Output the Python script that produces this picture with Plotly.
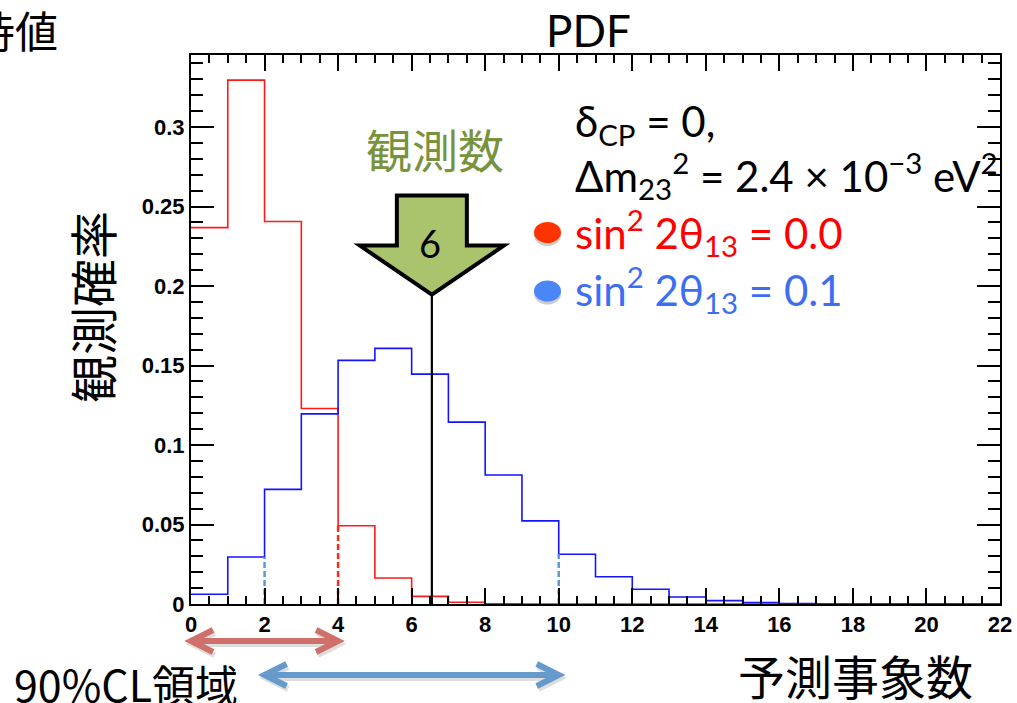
import plotly.graph_objects as go

# Histogram bin edges: one bin per integer count of predicted events
bin_edges = list(range(0, 23))

# Observation probability per bin for sin^2 2θ13 = 0.0
prob_s0 = [0.2367, 0.3295, 0.2406, 0.1230, 0.0492, 0.0164, 0.0048, 0.0011,
           0.0002, 0, 0, 0, 0, 0, 0, 0, 0, 0, 0, 0, 0, 0]

# Observation probability per bin for sin^2 2θ13 = 0.1
prob_s1 = [0.0061, 0.0296, 0.0721, 0.1196, 0.1532, 0.1608, 0.1446, 0.1144,
           0.0811, 0.0523, 0.0313, 0.0171, 0.0093, 0.0044, 0.0021, 0.0009,
           0.0003, 0, 0, 0, 0, 0]

# 90% CL regions (in predicted events)
cl90_s0 = [0, 4]
cl90_s1 = [2, 10]

# Observed number of events and where its marker line sits
n_observed = 6
observed_x = 6.55

x_tick_vals = list(range(0, 23, 2))
y_tick_vals = [0, 0.05, 0.1, 0.15, 0.2, 0.25, 0.3]
y_tick_text = ["0", "0.05", "0.1", "0.15", "0.2", "0.25", "0.3"]

RED = "#ff1a1a"
BLUE = "#1414ff"
RED_DASH = "#ff2a10"
BLUE_DASH = "#5b9bd5"
RED_ARROW = "#d0706a"
BLUE_ARROW = "#6699cc"
GREEN_FILL = "#a9c46c"
GREEN_TEXT = "#77933c"

# Page geometry (pixels)
W, H = 1017, 703
ML, MR, MT, MB = 191, 17, 55, 99
PW = W - ML - MR
PH = H - MT - MB
X_RANGE = [0, 22]
Y_RANGE = [0, 0.3453]
DX = (X_RANGE[1] - X_RANGE[0]) / PW   # data x per pixel
DY = (Y_RANGE[1] - Y_RANGE[0]) / PH   # data y per pixel
ARROW_TIP_Y = 0.1946

LATIN = "Lato, 'Noto Sans', sans-serif"
CJK = "'Noto Sans CJK JP', sans-serif"
TICKS = "'Liberation Sans', Arial, sans-serif"


def pxx(px):
    return (px - ML) / PW


def pxy(py):
    return (H - MB - py) / PH


def data_to_paper_x(x):
    return (x - X_RANGE[0]) / (X_RANGE[1] - X_RANGE[0])


def step(vals):
    return vals + [vals[-1]]


fig = go.Figure()

fig.add_trace(go.Scatter(x=bin_edges, y=step(prob_s0), mode="lines",
                         line=dict(color=RED, width=1.6, shape="hv"),
                         showlegend=False, hoverinfo="skip"))
fig.add_trace(go.Scatter(x=bin_edges, y=step(prob_s1), mode="lines",
                         line=dict(color=BLUE, width=1.6, shape="hv"),
                         showlegend=False, hoverinfo="skip"))

# dashed edges of the 90% CL regions
for bounds, vals, col in [(cl90_s0, prob_s0, RED_DASH), (cl90_s1, prob_s1, BLUE_DASH)]:
    for b in bounds:
        if b <= 0:
            continue
        h = min(vals[b - 1], vals[b])
        fig.add_trace(go.Scatter(x=[b, b], y=[0, h], mode="lines",
                                 line=dict(color=col, width=2.5, dash="6px,3px"),
                                 showlegend=False, hoverinfo="skip"))

# observed-count line
fig.add_trace(go.Scatter(x=[observed_x, observed_x], y=[0, ARROW_TIP_Y], mode="lines",
                         line=dict(color="black", width=2.2),
                         showlegend=False, hoverinfo="skip"))

shapes = []

# block arrow pointing at the observed count
cx, ty = observed_x, ARROW_TIP_Y
pts = [(cx, ty), (cx + 72 * DX, ty + 49 * DY), (cx + 35 * DX, ty + 49 * DY),
       (cx + 35 * DX, ty + 99 * DY), (cx - 35 * DX, ty + 99 * DY),
       (cx - 35 * DX, ty + 49 * DY), (cx - 72 * DX, ty + 49 * DY)]
path = "M " + " L ".join(f"{x},{y}" for x, y in pts) + " Z"
shapes.append(dict(type="path", xref="x", yref="y", path=path,
                   fillcolor=GREEN_FILL, line=dict(color="black", width=4)))


def double_arrow(x0, x1, py, color):
    a = data_to_paper_x(x0)
    b = data_to_paper_x(x1)
    ax = 22 / PW
    ay = 11 / PH
    out = []
    for off, col, op in [(3, "#7f7f7f", 0.25), (0, color, 1.0)]:
        y = pxy(py + off)
        xo = 1.5 / PW if off else 0
        p = (f"M {a + xo},{y} L {b + xo},{y} "
             f"M {a + ax + xo},{y + ay} L {a + xo},{y} L {a + ax + xo},{y - ay} "
             f"M {b - ax + xo},{y + ay} L {b + xo},{y} L {b - ax + xo},{y - ay}")
        out.append(dict(type="path", xref="paper", yref="paper", path=p,
                        line=dict(color=col, width=6), opacity=op, layer="above"))
    return out


shapes += double_arrow(cl90_s0[0], cl90_s0[1], 641, RED_ARROW)
shapes += double_arrow(cl90_s1[0], cl90_s1[1], 675, BLUE_ARROW)

# legend dots
for cy, col in [(232.5, "#ff3300"), (291, "#4a86f7")]:
    for off, c, op in [(3, "#555555", 0.3), (0, col, 1.0)]:
        shapes.append(dict(type="circle", xref="paper", yref="paper",
                           x0=pxx(534), x1=pxx(561),
                           y0=pxy(cy + 10.5 + off), y1=pxy(cy - 10.5 + off),
                           fillcolor=c, opacity=op, line=dict(width=0)))

annotations = []


def text(s, px, py, size, color="black", family=LATIN, xanchor="center",
         yanchor="middle", angle=0):
    annotations.append(dict(text=s, x=pxx(px), y=pxy(py), xref="paper", yref="paper",
                            showarrow=False, xanchor=xanchor, yanchor=yanchor,
                            textangle=angle,
                            font=dict(family=family, size=size, color=color)))


text("PDF", 588.5, 29.5, 44)
text("期待値", 60, 29, 43, family=CJK, xanchor="right")
text("観測確率", 91, 307, 48, family=CJK, angle=-90)
text("予測事象数", 855, 674, 47, family=CJK)
text("90%CL領域", 12, 683, 43, family=CJK, xanchor="left")
text("観測数", 435, 148, 46, color=GREEN_TEXT, family=CJK)
text(str(n_observed), 430, 243, 38)

text("δ<sub>CP</sub> = 0,", 573, 124, 42, xanchor="left")
text("Δm<sub>23</sub><sup>2</sup> = 2.4 × 10<sup>−3</sup> eV<sup>2</sup>", 573, 175, 42,
     xanchor="left")
text("sin<sup>2</sup> 2θ<sub>13</sub> = 0.0", 573, 233, 42, color="#ff0000", xanchor="left")
text("sin<sup>2</sup> 2θ<sub>13</sub> = 0.1", 573, 289, 42, color="#3d6ef2", xanchor="left")

axis_common = dict(showline=True, linewidth=2, linecolor="black", mirror="ticks",
                   ticks="inside", tickcolor="black", tickwidth=1.5,
                   showgrid=False, zeroline=False, automargin=False,
                   tickfont=dict(family=TICKS, size=22, color="black", weight="bold"))

fig.update_layout(
    template="none",
    width=W, height=H,
    margin=dict(l=ML, r=MR, t=MT, b=MB, pad=0),
    paper_bgcolor="white", plot_bgcolor="white",
    xaxis=dict(range=X_RANGE, tickvals=x_tick_vals, ticklen=16,
               minor=dict(dtick=0.5, tick0=0, ticks="inside", ticklen=8,
                          tickwidth=1.5, tickcolor="black", showgrid=False),
               **axis_common),
    yaxis=dict(range=Y_RANGE, tickvals=y_tick_vals, ticktext=y_tick_text, ticklen=23,
               minor=dict(dtick=0.01, tick0=0, ticks="inside", ticklen=12,
                          tickwidth=1.5, tickcolor="black", showgrid=False),
               **axis_common),
    shapes=shapes,
    annotations=annotations,
    showlegend=False,
)

fig.write_html("out.html")
